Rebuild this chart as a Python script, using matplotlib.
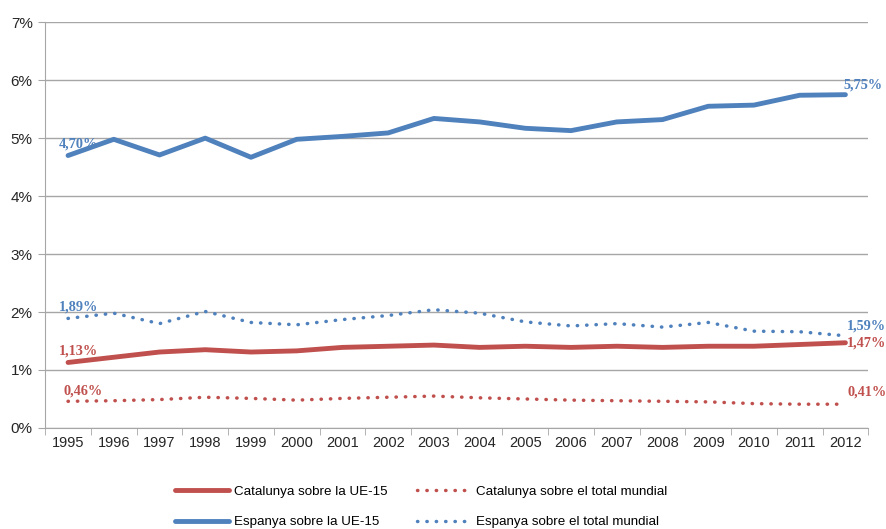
import matplotlib
matplotlib.use("Agg")
import matplotlib.pyplot as plt
import numpy as np
from matplotlib.ticker import FixedLocator

years = [str(y) for y in range(1995, 2013)]
cat_ue15 = [1.13, 1.22, 1.31, 1.35, 1.31, 1.33, 1.39, 1.41, 1.43, 1.39, 1.41, 1.39, 1.41, 1.39, 1.41, 1.41, 1.44, 1.47]
cat_mundial = [0.46, 0.47, 0.49, 0.53, 0.51, 0.48, 0.51, 0.53, 0.55, 0.52, 0.50, 0.48, 0.47, 0.46, 0.45, 0.42, 0.41, 0.41]
esp_ue15 = [4.70, 4.98, 4.71, 5.00, 4.67, 4.98, 5.03, 5.09, 5.34, 5.28, 5.17, 5.13, 5.28, 5.32, 5.55, 5.57, 5.74, 5.75]
esp_mundial = [1.89, 1.98, 1.80, 2.01, 1.82, 1.78, 1.87, 1.94, 2.04, 1.98, 1.83, 1.76, 1.80, 1.74, 1.82, 1.67, 1.66, 1.59]

red = "#C0504D"
blue = "#4F81BD"
grid = "#A6A6A6"

plt.rcParams['font.family'] = ['Liberation Sans', 'DejaVu Sans']

fig = plt.figure(figsize=(8.86, 5.29), dpi=100)
ax = fig.add_axes([0.051, 0.191, 0.929, 0.767])

x = np.arange(len(years))
ax.plot(x, cat_ue15, color=red, lw=3.5, solid_capstyle="round", label="Catalunya sobre la UE-15")
ax.plot(x, cat_mundial, color=red, lw=2.5, linestyle=(0, (0.1, 2.6)), dash_capstyle="round", label="Catalunya sobre el total mundial")
ax.plot(x, esp_ue15, color=blue, lw=3.5, solid_capstyle="round", label="Espanya sobre la UE-15")
ax.plot(x, esp_mundial, color=blue, lw=2.5, linestyle=(0, (0.1, 2.6)), dash_capstyle="round", label="Espanya sobre el total mundial")

def fmt(v):
    return ("%.2f%%" % v).replace(".", ",")

lab_font = dict(family="Liberation Serif", fontweight="bold", fontsize=10.3)
ax.text(x[0] - 0.2, esp_ue15[0] + 0.08, fmt(esp_ue15[0]), color=blue, ha="left", va="bottom", **lab_font)
ax.text(x[0] - 0.2, esp_mundial[0] + 0.08, fmt(esp_mundial[0]), color=blue, ha="left", va="bottom", **lab_font)
ax.text(x[0] - 0.2, cat_ue15[0] + 0.08, fmt(cat_ue15[0]), color=red, ha="left", va="bottom", **lab_font)
ax.text(x[0] - 0.1, cat_mundial[0] + 0.06, fmt(cat_mundial[0]), color=red, ha="left", va="bottom", **lab_font)
ax.text(x[-1] - 0.05, esp_ue15[-1] + 0.06, fmt(esp_ue15[-1]), color=blue, ha="left", va="bottom", **lab_font)
ax.text(x[-1] + 0.04, esp_mundial[-1] + 0.05, fmt(esp_mundial[-1]), color=blue, ha="left", va="bottom", **lab_font)
ax.text(x[-1] + 0.04, cat_ue15[-1], fmt(cat_ue15[-1]), color=red, ha="left", va="center", **lab_font)
ax.text(x[-1] + 0.04, cat_mundial[-1] + 0.1, fmt(cat_mundial[-1]), color=red, ha="left", va="bottom", **lab_font)

ax.set_xlim(-0.5, len(years) - 0.5)
ax.set_ylim(0, 7)
ax.set_yticks(range(0, 8))
ax.set_yticklabels(["%d%%" % v for v in range(0, 8)])
ax.set_xticks(x)
ax.set_xticklabels(years)
ax.xaxis.set_minor_locator(FixedLocator(np.arange(-0.5, len(years), 1)))
ax.tick_params(axis="x", which="major", length=0, pad=6, labelsize=10.5, colors="#262626")
ax.tick_params(axis="x", which="minor", length=5, color=grid)
ax.tick_params(axis="y", length=5, color=grid, labelsize=11, colors="#262626", pad=4)
ax.tick_params(axis="y", colors=grid, labelcolor="#262626")

ax.grid(axis="y", color=grid, lw=1)
ax.set_axisbelow(True)
for s in ["top", "right"]:
    ax.spines[s].set_visible(False)
for s in ["left", "bottom"]:
    ax.spines[s].set_color(grid)

handles, labels = ax.get_legend_handles_labels()
order = [0, 2, 1, 3]
fig.legend([handles[i] for i in order], [labels[i] for i in order], ncol=2, loc="lower left",
           bbox_to_anchor=(0.188, -0.014), borderaxespad=0.2, frameon=False, fontsize=9.6,
           handlelength=4.1, columnspacing=2.2, labelspacing=1.35, handletextpad=0.35)

fig.savefig("out.png", dpi=100)
